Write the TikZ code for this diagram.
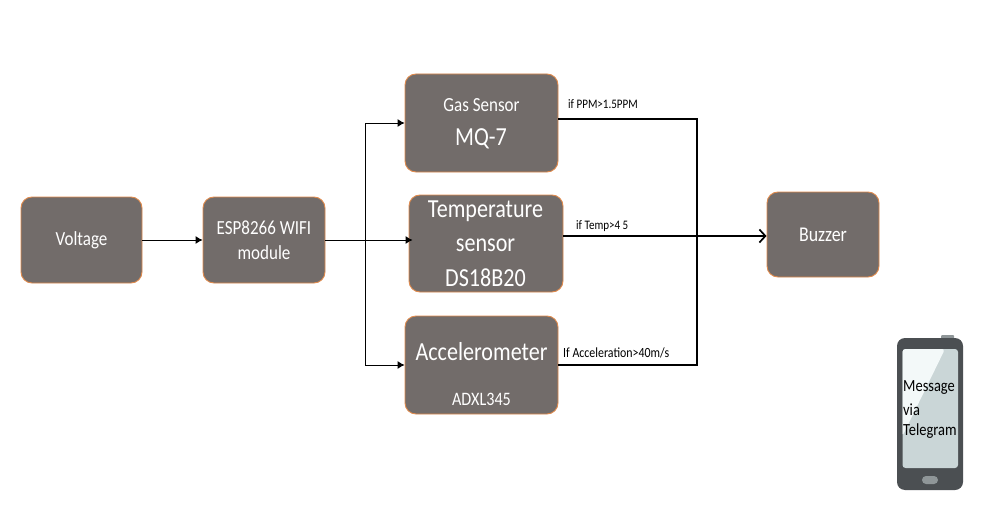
\documentclass[tikz,border=0pt]{standalone}
\usepackage{fontspec}
\setmainfont[FakeStretch=0.85]{Carlito}
\usetikzlibrary{arrows.meta}
\definecolor{boxfill}{HTML}{726C6A}
\definecolor{boxline}{HTML}{E08A4C}
\definecolor{phonebody}{HTML}{4B4F52}
\definecolor{phonekey}{HTML}{8F9698}
\definecolor{screendark}{HTML}{CAD6D7}
\definecolor{screenlight}{HTML}{F3F9F9}
\newcommand{\fsz}[1]{\fontsize{#1}{#1}\selectfont}
\tikzset{
  x=1pt,y=-1pt,
  blockbox/.style={draw=boxline,line width=0.9pt,fill=boxfill,rounded corners=11pt,text=white,align=center,inner sep=0pt},
  thinflow/.style={draw=black,line width=0.9pt,-{Latex[length=7pt,width=8pt]}},
  boldline/.style={draw=black,line width=1.7pt},
  boldflow/.style={draw=black,line width=1.7pt,-{Straight Barb[length=6pt,width=13pt,line width=1.7pt]}},
  condlabel/.style={inner sep=0pt,anchor=west,text=black,font=\fsz{13}},
  big/.style={font=\fsz{26}},
  phonetext/.style={inner sep=0pt,anchor=west,text=black,font=\fsz{17}},
}
\begin{document}
\begin{tikzpicture}
\useasboundingbox (0,0) rectangle (1004,532);
\fill[white] (0,0) rectangle (1004,532);

% blocks
\node[blockbox,minimum width=121pt,minimum height=86pt] (volt) at (81.5,240) {\fsz{20}Voltage};
\node[blockbox,minimum width=122pt,minimum height=86pt] (esp) at (264,240) {\fsz{20}ESP8266 WIFI\\[10pt]\fsz{20}module};
\node[blockbox,minimum width=153pt,minimum height=98pt] (gas) at (481.5,123) {};
\node[blockbox,minimum width=154pt,minimum height=97pt] (temp) at (486,243.5) {};
\node[blockbox,minimum width=153pt,minimum height=98pt] (acc) at (481.5,365) {};
\node[blockbox,minimum width=112pt,minimum height=85pt] (buzz) at (823,234.5) {\raisebox{-3.5pt}{\fsz{21}Buzzer}};

% block texts
\node[text=white,inner sep=0pt,font=\fsz{20}] (gast) at (481.5,105) {Gas Sensor};
\node[text=white,inner sep=0pt,big] (gasm) at (481,139) {MQ-7};
\node[text=white,inner sep=0pt,big] (tmp1) at (485.5,211) {Temperature};
\node[text=white,inner sep=0pt,big] (tmp2) at (485.5,245) {sensor};
\node[text=white,inner sep=0pt,big] (tmp3) at (485.5,278) {DS18B20};
\node[text=white,inner sep=0pt,big] (acc1) at (481.5,352) {Accelerometer};
\node[text=white,inner sep=0pt,font=\fsz{19}] (acc2) at (481.5,399) {ADXL345};

% junction and connector points
\coordinate (split) at (365,240);
\coordinate (tempin) at ([xshift=4pt]temp.west |- split);
\coordinate (gasout) at ([yshift=4pt]gas.east);
\coordinate (merge) at (697,236);
\coordinate (tempout) at (temp.east |- merge);
\coordinate (buzzin) at (buzz.west |- merge);

% left connectors
\draw[thinflow] (volt.east |- split) -- (esp.west |- split);
\draw[thinflow] (esp.east |- split) -- (tempin);
\draw[thinflow] (split) |- (gas.west);
\draw[thinflow] (split) |- (acc.west);

% right connectors
\draw[boldline] (gasout) -| (merge);
\draw[boldline] (tempout) -- (merge);
\draw[boldline] (acc.east) -| (merge);
\draw[boldflow] (merge) -- (buzzin);

% condition labels
\node[condlabel] (c1) at (568,104.5) {if PPM>1.5PPM};
\node[condlabel] (c2) at (576,226) {if Temp>4 5};
\node[condlabel,font=\fsz{14}] (c3) at (563,353) {If Acceleration>40m/s};

% phone
\fill[phonekey,rounded corners=1pt] (941,335) rectangle (954,340);
\fill[phonebody,rounded corners=8pt] (897,338) rectangle (963,490);
\fill[screendark,rounded corners=3pt] (902.5,349) rectangle (958,468);
\fill[screenlight,rounded corners=3pt] (902.5,436) -- (902.5,349) -- (945,349) -- cycle;
\fill[phonekey,rounded corners=4pt] (922,476) rectangle (938,484);
\node[phonetext] (m1) at (903,388) {Message};
\node[phonetext] (m2) at (903,410) {via};
\node[phonetext] (m3) at (903,431) {Telegram};
\end{tikzpicture}
\end{document}
